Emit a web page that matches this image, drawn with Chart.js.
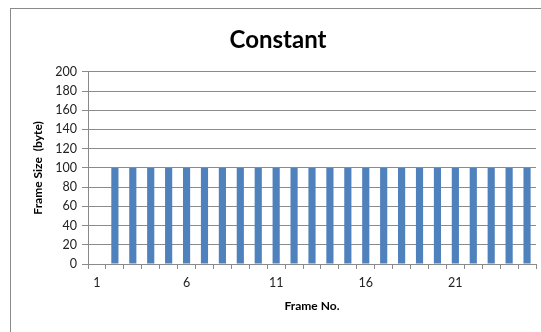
<!DOCTYPE html>
<html>
<head>
<meta charset="utf-8">
<script src="https://cdn.jsdelivr.net/npm/chart.js@4"></script>
<style>
  body { margin: 0; background: #fff; }
  #wrap { position: relative; width: 541px; height: 332px; overflow: hidden; }
  #frame { position: absolute; left: 10px; top: 8px; width: 560px; height: 400px; border: 1px solid #8a8a8a; }
  canvas { position: absolute; left: 0; top: 0; }
</style>
</head>
<body>
<div id="wrap">
  <div id="frame"></div>
  <canvas id="myBarChart" width="541" height="332"></canvas>
</div>
<script>
const frames = ['1', '2', '3', '4', '5', '6', '7', '8', '9', '10', '11', '12', '13',
    '14', '15', '16', '17', '18', '19', '20', '21', '22', '23', '24', '25'];
const frameSizes = [0, 100, 100, 100, 100, 100, 100, 100, 100, 100, 100, 100, 100,
    100, 100, 100, 100, 100, 100, 100, 100, 100, 100, 100, 100];
const yTicks = [0, 20, 40, 60, 80, 100, 120, 140, 160, 180, 200];

const fontFamily = 'Lato, "Open Sans", sans-serif';

const ctx = document.getElementById('myBarChart').getContext('2d');
const myBarChart = new Chart(ctx, {
    type: 'bar',
    data: {
        labels: frames,
        datasets: [{
            data: frameSizes,
            backgroundColor: '#4F81BD',
            barPercentage: 0.4,
            categoryPercentage: 1.0
        }]
    },
    options: {
        responsive: false,
        animation: false,
        layout: {
            padding: { left: 20, right: 5, top: 0, bottom: 0 }
        },
        plugins: {
            legend: { display: false },
            tooltip: { enabled: false },
            title: {
                display: true,
                text: 'Constant',
                color: '#000',
                font: { family: fontFamily, size: 24, weight: 'bold' },
                padding: { top: 26, bottom: 17 }
            }
        },
        scales: {
            x: {
                grid: {
                    display: true,
                    offset: true,
                    drawOnChartArea: false,
                    drawTicks: true,
                    tickLength: 5,
                    color: '#8a8a8a'
                },
                border: { display: true, color: '#8a8a8a' },
                ticks: {
                    autoSkip: false,
                    maxRotation: 0,
                    padding: 6,
                    color: '#222',
                    font: { family: fontFamily, size: 12.5 },
                    callback: function (value, index) {
                        return index % 5 === 0 ? frames[index] : '';
                    }
                },
                title: {
                    display: true,
                    text: 'Frame No.',
                    color: '#000',
                    font: { family: fontFamily, size: 12, weight: 'bold' },
                    padding: { top: 6, bottom: 19 }
                },
                afterFit: (scale) => { scale.height = 68; }
            },
            y: {
                min: 0,
                max: 200,
                afterBuildTicks: (scale) => {
                    scale.ticks = yTicks.map(v => ({ value: v }));
                },
                grid: {
                    color: '#8a8a8a',
                    drawTicks: true,
                    tickLength: 6
                },
                border: { display: true, color: '#8a8a8a' },
                ticks: {
                    padding: 5,
                    color: '#222',
                    font: { family: fontFamily, size: 12.5 }
                },
                title: {
                    display: true,
                    text: 'Frame Size  (byte)',
                    color: '#000',
                    font: { family: fontFamily, size: 12, weight: 'bold' },
                    padding: { top: 11, bottom: 6 }
                },
                afterFit: (scale) => { scale.width = 68; }
            }
        }
    }
});
</script>
</body>
</html>
